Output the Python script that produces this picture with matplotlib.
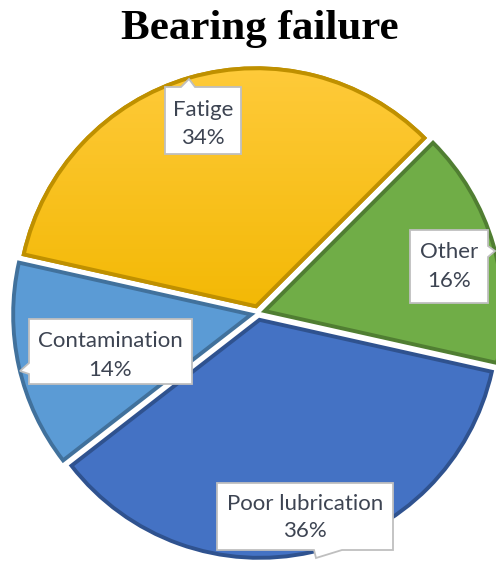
import numpy as np
import matplotlib
matplotlib.use("Agg")
import matplotlib.pyplot as plt
from matplotlib.patches import Polygon, PathPatch
from matplotlib.colors import LinearSegmentedColormap

# ---- data ----
categories = ["Fatige", "Other", "Poor lubrication", "Contamination"]
shares = [34, 16, 36, 14]
fill_colors = ["#FFC000", "#70AD47", "#4472C4", "#5B9BD5"]
edge_colors = ["#BF9000", "#507E32", "#2F528F", "#41719C"]
title = "Bearing failure"

W, H = 496, 565
fig = plt.figure(figsize=(W / 100, H / 100), dpi=100)
ax = fig.add_axes([0, 0, 1, 1])


def py(y):
    """Convert a top-down pixel row into the axis' bottom-up coordinate."""
    return H - y


cx, cy, R = 258, 313, 238
offset = 7  # explode distance, in the same units as the radius
edge_lw = 2.8

# first wedge (Fatige) ends at 45 degrees, wedges run clockwise
start = 45 + shares[0] / sum(shares) * 360
wedges, _ = ax.pie(
    shares,
    colors=fill_colors,
    startangle=start,
    counterclock=False,
    radius=R,
    center=(cx, py(cy)),
    explode=[offset] * len(shares),
    wedgeprops=dict(linewidth=edge_lw, joinstyle="miter"),
)
for w, ec in zip(wedges, edge_colors):
    w.set_edgecolor(ec)
    w.set_zorder(2)

# vertical gradient inside the Fatige wedge
grad_cmap = LinearSegmentedColormap.from_list("fatige", ["#FFCB3C", "#F2B700"])
grad = np.linspace(0, 1, 256).reshape(-1, 1)
img = ax.imshow(grad, cmap=grad_cmap, extent=(0, W, py(330), py(60)),
                aspect="auto", zorder=2.5, origin="upper")
img.set_clip_path(wedges[0])
ax.add_patch(PathPatch(
    wedges[0].get_path(), transform=wedges[0].get_transform(),
    facecolor="none", edgecolor=edge_colors[0], linewidth=edge_lw,
    joinstyle="miter", zorder=2.6))

ax.set_xlim(0, W)
ax.set_ylim(0, H)
ax.set_aspect("auto")
ax.axis("off")


def callout(box, side, base, tip):
    """White label box with a small pointer on one side (pixel coords)."""
    l, t, r, b = box
    if side == "top":
        pts = [(l, t), (base[0], t), tip, (base[1], t), (r, t), (r, b), (l, b)]
    elif side == "bottom":
        pts = [(l, t), (r, t), (r, b), (base[1], b), tip, (base[0], b), (l, b)]
    elif side == "left":
        pts = [(l, t), (r, t), (r, b), (l, b), (l, base[1]), tip, (l, base[0])]
    else:  # right
        pts = [(l, t), (r, t), (r, base[0]), tip, (r, base[1]), (r, b), (l, b)]
    poly = Polygon([(x, py(y)) for x, y in pts], closed=True,
                   facecolor="white", edgecolor="#BFBFBF",
                   linewidth=1.3, zorder=5)
    ax.add_patch(poly)


label_layout = {
    "Fatige": dict(box=(165, 87, 241, 154), side="top", base=(181, 195),
                   tip=(189, 79), x=203, y1=116, y2=144),
    "Other": dict(box=(410, 230, 488, 303), side="right", base=(246, 257),
                  tip=(495, 251), x=449, y1=258, y2=287),
    "Poor lubrication": dict(box=(217, 483, 393, 550), side="bottom",
                             base=(314, 342), tip=(316, 558), x=305,
                             y1=510, y2=537),
    "Contamination": dict(box=(29, 319, 192, 384), side="left",
                          base=(363, 374), tip=(20, 371), x=110,
                          y1=347, y2=376),
}

text_kw = dict(ha="center", va="baseline", color="#3D4452",
               fontfamily="Lato", fontsize=16, zorder=6)
for cat, val in zip(categories, shares):
    lay = label_layout[cat]
    callout(lay["box"], lay["side"], lay["base"], lay["tip"])
    ax.text(lay["x"], py(lay["y1"]), cat, **text_kw)
    ax.text(lay["x"], py(lay["y2"]), f"{val}%", **text_kw)

ax.text(260, py(39), title, ha="center", va="baseline",
        fontfamily="Liberation Serif", fontweight="bold", fontsize=31,
        color="black", zorder=6)

fig.savefig("out.png", dpi=100)
